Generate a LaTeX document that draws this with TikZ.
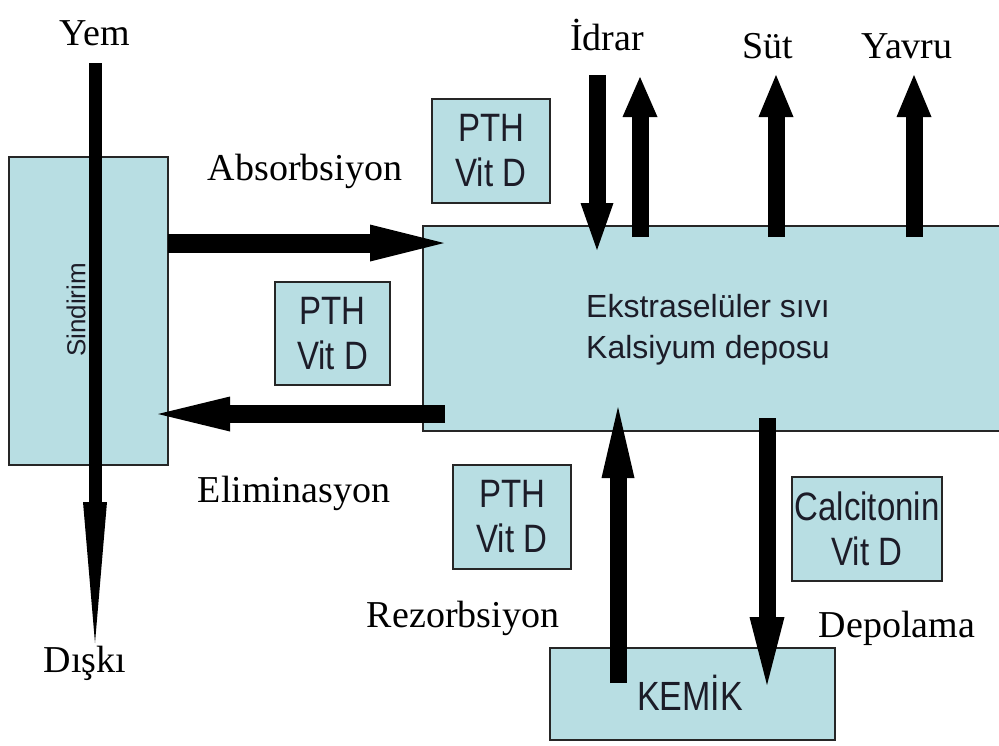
\documentclass[tikz,border=0pt]{standalone}
\usepackage{fontspec}
\setmainfont{Liberation Serif}
\setsansfont{Liberation Sans}
\usetikzlibrary{arrows.meta}
\definecolor{boxfill}{RGB}{184,222,227}
\definecolor{boxline}{RGB}{38,38,38}
\definecolor{txtc}{RGB}{28,28,40}
\newcommand{\tallx}[1]{\scalebox{1}[1.2]{#1}}
\begin{document}
\begin{tikzpicture}[x=1pt,y=-1pt,
  box/.style={draw=boxline, fill=boxfill, line width=1.6pt, rectangle, inner sep=0pt},
  lbl/.style={font=\fontsize{38}{40}\selectfont, inner sep=0pt, anchor=base},
  hormone/.style={box, font=\sffamily\fontsize{33}{45}\selectfont, align=center, text=txtc},
  flow/.style={line width=18pt},
]
\useasboundingbox (0,0) rectangle (999,745);
\fill[white] (0,0) rectangle (999,745);

% boxes
\node[box, minimum width=159pt, minimum height=308pt] (sind) at (88.5,311) {};
\node[box, minimum width=590pt, minimum height=205pt] (ecf) at (718,328.5) {};
\node[hormone, minimum width=118pt, minimum height=104pt] (pth1) at (491,151) {\tallx{PTH}\\\tallx{Vit D}};
\node[hormone, minimum width=115pt, minimum height=103pt] (pth2) at (332.5,333.5) {\tallx{PTH}\\\tallx{Vit D}};
\node[hormone, minimum width=118pt, minimum height=104pt] (pth3) at (512,517) {\tallx{PTH}\\\tallx{Vit D}};
\node[hormone, minimum width=150pt, minimum height=104pt] (calc) at (867,529) {\tallx{Calcitonin}\\\tallx{Vit D}};
\node[box, minimum width=285pt, minimum height=92pt] (kemik) at (692.5,694) {};

% text in Sindirim box (under the arrow)
\node[rotate=90, font=\sffamily\fontsize{26}{26}\selectfont, text=txtc] (sindt) at (76,310) {Sindirim};

% arrow end points
\coordinate (yemS) at (95,63);   \coordinate (yemE) at (95,643);
\coordinate (absS) at (168,243); \coordinate (absE) at (444,243);
\coordinate (eliS) at (445,414); \coordinate (eliE) at (158,414);
\coordinate (idrS) at (597,75);  \coordinate (idrE) at (597,250);
\coordinate (idr2S) at (640,237); \coordinate (idr2E) at (640,77);
\coordinate (sutS) at (776,237); \coordinate (sutE) at (776,75);
\coordinate (yavS) at (914,237); \coordinate (yavE) at (914,75);
\coordinate (rezS) at (618,683); \coordinate (rezE) at (618,407);
\coordinate (depS) at (767,418); \coordinate (depE) at (767,685);

% arrows
\draw[line width=13pt, -{Triangle[width=24pt,length=141pt,line width=0pt]}] (yemS) -- (yemE);
\draw[flow, line width=19pt, -{Triangle[width=37pt,length=74pt,line width=0pt]}] (absS) -- (absE);
\draw[flow, -{Triangle[width=35pt,length=72pt,line width=0pt]}] (eliS) -- (eliE);
\draw[flow, line width=17pt, -{Triangle[width=33pt,length=47pt,line width=0pt]}] (idrS) -- (idrE);
\draw[flow, line width=17pt, -{Triangle[width=35pt,length=40pt,line width=0pt]}] (idr2S) -- (idr2E);
\draw[flow, line width=17pt, -{Triangle[width=35pt,length=42pt,line width=0pt]}] (sutS) -- (sutE);
\draw[flow, line width=17pt, -{Triangle[width=35pt,length=42pt,line width=0pt]}] (yavS) -- (yavE);
\draw[flow, line width=17pt, -{Triangle[width=33pt,length=71pt,line width=0pt]}] (rezS) -- (rezE);
\draw[flow, line width=17pt, -{Triangle[width=35pt,length=68pt,line width=0pt]}] (depS) -- (depE);

% texts in boxes
\node[align=center, font=\sffamily\fontsize{32}{41}\selectfont, text=txtc] (ecft) at (708,330) {Ekstraselüler sıvı\\Kalsiyum deposu};
\node[font=\sffamily\fontsize{34}{40}\selectfont, text=txtc] (kemikt) at (690,693) {\tallx{KEMİK}};

% labels
\node[lbl] (yem) at (95,45) {Yem};
\node[lbl] (idrar) at (607,50) {İdrar};
\node[lbl] (sut) at (768,58) {Süt};
\node[lbl] (yavru) at (907,58) {Yavru};
\node[lbl] (abs) at (305,180) {Absorbsiyon};
\node[lbl] (eli) at (294,502) {Eliminasyon};
\node[lbl] (rez) at (463,627) {Rezorbsiyon};
\node[lbl] (dep) at (897,637) {Depolama};
\node[lbl] (diski) at (85,672) {Dışkı};
\end{tikzpicture}
\end{document}
